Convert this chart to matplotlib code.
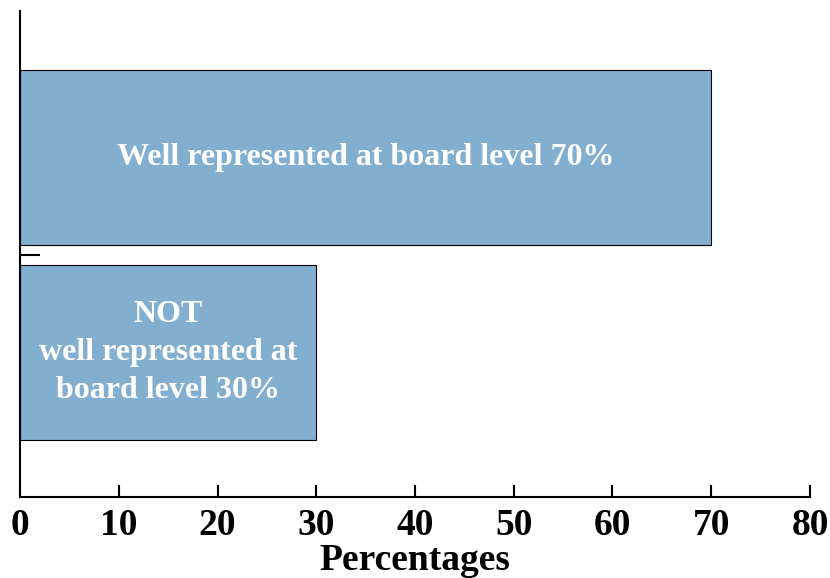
import matplotlib
matplotlib.use('Agg')
import matplotlib.pyplot as plt

# Data
labels = ['NOT\nwell represented at\nboard level 30%', 'Well represented at board level 70%']
values = [30, 70]
positions = [0, 1]
xticks = [0, 10, 20, 30, 40, 50, 60, 70, 80]

plt.rcParams['font.family'] = ['Liberation Serif', 'DejaVu Serif']
plt.rcParams['font.weight'] = 'bold'

fig = plt.figure(figsize=(8.30, 5.78), dpi=100)
ax = fig.add_axes([0.0241, 0.1401, 0.9518, 0.8409])

ax.barh(positions, values, height=0.9, color='#82aed0', edgecolor='black', linewidth=0.8)
for p, v, lab in zip(positions, values, labels):
    ax.text(v / 2, p, lab, ha='center', va='center', color='white',
            fontsize=23, fontweight='bold', linespacing=1.4)

ax.set_xlim(0, 80)
ax.set_ylim(-0.741, 1.751)
ax.set_xticks(xticks)
ax.set_xticklabels([str(t) for t in xticks], fontsize=27, fontweight='bold')
ax.set_yticks([0.5])
ax.set_yticklabels([''])
ax.tick_params(axis='x', direction='in', length=8.6, width=1.5, pad=8)
ax.tick_params(axis='y', direction='in', length=14.4, width=1.5)
ax.set_xlabel('Percentages', fontsize=27, fontweight='bold', labelpad=0)

ax.spines['top'].set_visible(False)
ax.spines['right'].set_visible(False)
ax.spines['left'].set_linewidth(1.5)
ax.spines['bottom'].set_linewidth(1.5)

fig.savefig('out.png', dpi=100)
